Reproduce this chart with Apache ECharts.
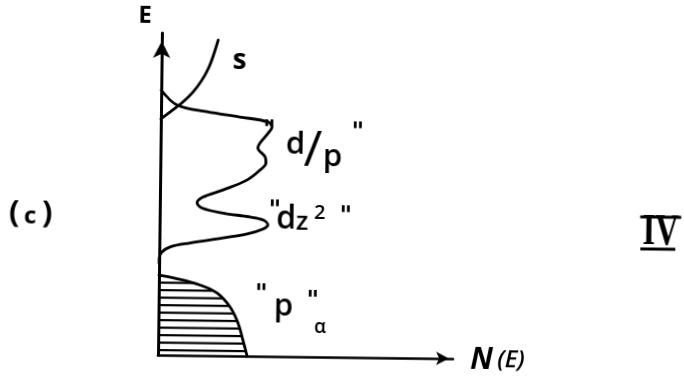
<!DOCTYPE html>
<html>
<head>
<meta charset="utf-8">
<script src="https://cdn.jsdelivr.net/npm/echarts@6/dist/echarts.min.js"></script>
<style>
  html, body { margin: 0; padding: 0; background: #fff; overflow: hidden; }
  /* the whole figure leans very slightly clockwise about the origin of the axes */
  #chart { width: 684px; height: 380px; transform: rotate(0.7deg); transform-origin: 158px 355px; }
</style>
</head>
<body>
<div id="chart"></div>
<script>
// Schematic density of states: each point is [N(E), E] in arbitrary units.
const sBand = [[0, 7.33], [0.31, 7.55], [0.71, 7.84], [1.08, 8.18], [1.38, 8.56],
               [1.61, 8.96], [1.77, 9.37], [1.91, 9.80]];

const dBand = [[0, 8.23], [0.54, 7.77], [1.56, 7.57], [2.68, 7.42], [3.63, 7.28],
               [3.77, 7.12], [3.64, 6.93], [3.37, 6.62], [3.30, 6.47], [3.55, 6.19],
               [3.58, 6.00], [3.38, 5.78], [2.95, 5.47], [2.14, 5.15], [1.46, 4.92],
               [1.26, 4.74], [1.43, 4.58], [2.15, 4.43], [3.06, 4.32], [3.51, 4.23],
               [3.67, 4.08], [3.51, 3.95], [2.97, 3.79], [2.16, 3.66], [1.04, 3.49],
               [0.36, 3.36], [0.09, 3.20], [0, 3.01], [0, 2.85]];

const pBand = [[0, 2.48], [0.48, 2.40], [1.39, 2.19], [1.97, 1.95], [2.42, 1.52],
               [2.70, 1.02], [2.87, 0.50], [3.02, 0]];

const axisMaxN = 10;
const axisMaxE = 10;

// horizontal hatching for the filled (occupied) p band
const hatch = document.createElement('canvas');
hatch.width = 16;
hatch.height = 15;
(function () {
  const c = hatch.getContext('2d');
  c.fillStyle = '#000';
  c.fillRect(0, 4, 16, 2.2);
  c.fillRect(0, 11.5, 16, 2.2);
})();

const INK = '#000';
const lbl = (text, x, y, font, extra) => Object.assign({
  type: 'text', x: x, y: y, silent: true,
  style: { text: text, font: font, fill: INK, align: 'center', verticalAlign: 'middle' }
}, extra || {});

const F = '"Open Sans", "DejaVu Sans", sans-serif';
const Q = 'italic bold 24px "DejaVu Sans", sans-serif';
const SERIF = '"Liberation Serif", "DejaVu Serif", serif';

const chart = echarts.init(document.getElementById('chart'), null, { renderer: 'canvas' });
chart.setOption({
  animation: false,
  backgroundColor: '#fff',
  grid: { left: 158, top: 33, width: 295, height: 322 },
  xAxis: {
    type: 'value', min: 0, max: axisMaxN,
    axisLine: { show: true, lineStyle: { color: INK, width: 2.6 },
                symbol: ['none', 'arrow'], symbolSize: [10, 13], symbolOffset: [0, -4] },
    axisTick: { show: false }, axisLabel: { show: false }, splitLine: { show: false }
  },
  yAxis: {
    type: 'value', min: 0, max: axisMaxE,
    axisLine: { show: true, lineStyle: { color: INK, width: 3 },
                symbol: ['none', 'arrow'], symbolSize: [13, 17], symbolOffset: [0, -8] },
    axisTick: { show: false }, axisLabel: { show: false }, splitLine: { show: false }
  },
  series: [
    {
      name: 's', type: 'line', data: sBand, smooth: 0.4, showSymbol: false, clip: false,
      lineStyle: { color: INK, width: 2.8, cap: 'round' }
    },
    {
      name: 'd', type: 'line', data: dBand, smooth: 0.35, showSymbol: false, clip: false,
      lineStyle: { color: INK, width: 2.8, cap: 'round', join: 'round' }
    },
    {
      name: 'p', type: 'line', data: pBand, smooth: 0.4, showSymbol: false, clip: false,
      lineStyle: { color: INK, width: 2.8, cap: 'round' },
      areaStyle: { color: { image: hatch, repeat: 'repeat' }, opacity: 1 }
    }
  ],
  graphic: [
    lbl('E', 141, 16, 'bold 24px ' + F),
    lbl('N', 481.6, 356.1, 'italic bold 30px ' + F),
    lbl('(E)', 511, 356.6, 'italic 600 24px ' + F),
    lbl('s', 236, 60.5, 'bold 28px ' + F),
    // "d/p"
    lbl('"', 266.5, 130, Q),
    lbl('d', 293, 143.6, '600 31px ' + F),
    lbl('/', 310.5, 149.5, '500 50px ' + F),
    lbl('p', 330.2, 154.7, '600 31px ' + F),
    lbl('"', 355, 131, Q),
    // "dz²"
    lbl('"', 273, 210, Q),
    lbl('d', 284.5, 218, '600 32px ' + F),
    lbl('z', 300.5, 220.1, '600 26px ' + F),
    lbl('2', 318, 211, '600 20px ' + F),
    lbl('"', 344, 215, Q),
    // "p"
    lbl('"', 260.5, 294, Q),
    lbl('p', 283, 305.3, '600 31px ' + F),
    lbl('"', 312, 300, Q),
    lbl('α', 319.7, 325.8, '600 19px ' + F),
    // panel tag
    lbl('(', 12.5, 215.5, 'bold 31px ' + F),
    lbl('c', 28.5, 218.0, 'bold 24px ' + F),
    lbl(')', 45.5, 215.1, 'bold 31px ' + F),
    // roman numeral with its top and bottom bars
    lbl('IV', 659, 227, 'bold 44px ' + SERIF, { scaleX: 0.74 }),
    { type: 'rect', silent: true, shape: { x: 638.5, y: 209.5, width: 41, height: 3 }, style: { fill: INK } },
    { type: 'rect', silent: true, shape: { x: 639, y: 241.5, width: 35, height: 3 }, style: { fill: INK } }
  ]
});
</script>
</body>
</html>
